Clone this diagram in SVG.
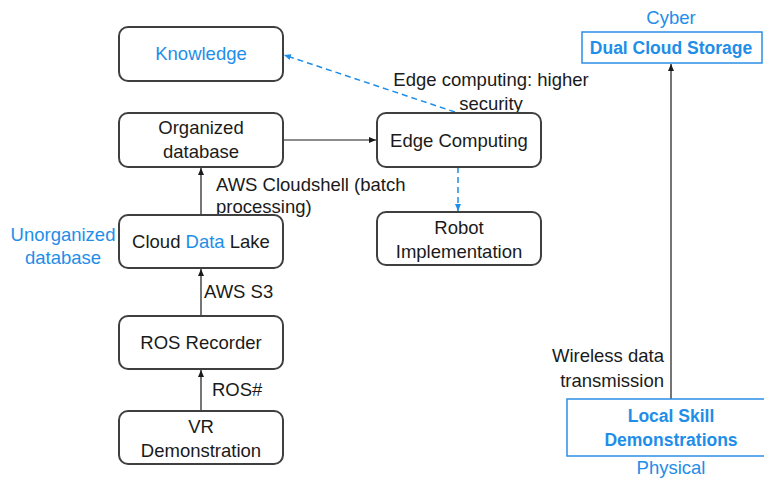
<svg xmlns="http://www.w3.org/2000/svg" width="764" height="481" viewBox="0 0 764 481">
<defs>
<style>
.box{fill:#fff;stroke:#3f3f3f;stroke-width:2}
.bbox{fill:#fff;stroke:#2a8fe6;stroke-width:1.5}
text{font-family:"Liberation Sans",Arial,sans-serif;font-size:18.5px;fill:#1a1a1a}
.c{text-anchor:middle}
.blue{fill:#1e8ee8}
.b{font-weight:bold;font-size:17.5px}
.ln{stroke:#1a1a1a;stroke-width:1.2;fill:none}
.dl{stroke:#1e8ee8;stroke-width:1.5;fill:none;stroke-dasharray:6,4}
</style>
<marker id="ak" markerWidth="8" markerHeight="8" refX="7" refY="4" orient="auto" markerUnits="userSpaceOnUse"><path d="M0,1 L7,4 L0,7 z" fill="#1a1a1a"/></marker>
<marker id="ab" markerWidth="8" markerHeight="8" refX="7" refY="4" orient="auto" markerUnits="userSpaceOnUse"><path d="M0,1 L7,4 L0,7 z" fill="#1e8ee8"/></marker>
</defs>
<g id="connectors">
<line class="ln" x1="201" y1="411" x2="201" y2="370" marker-end="url(#ak)"/>
<line class="ln" x1="201" y1="316" x2="201" y2="269" marker-end="url(#ak)"/>
<line class="ln" x1="201" y1="215" x2="201" y2="168" marker-end="url(#ak)"/>
<line class="ln" x1="283" y1="140" x2="376" y2="140" marker-end="url(#ak)"/>
<line class="ln" x1="671" y1="399" x2="671" y2="64" marker-end="url(#ak)"/>
<line class="dl" x1="458" y1="167" x2="458" y2="211" marker-end="url(#ab)"/>
<line class="dl" x1="455" y1="112" x2="284" y2="55" marker-end="url(#ab)"/>
<text x="212" y="396">ROS#</text>
<text x="204" y="298">AWS S3</text>
<text x="216" y="191">AWS Cloudshell (batch</text>
<text x="216" y="213">processing)</text>
<text class="c" x="491" y="86">Edge computing: higher</text>
<text class="c" x="491" y="110">security</text>
<text x="664" y="362" text-anchor="end">Wireless data</text>
<text x="664" y="387" text-anchor="end">transmission</text>
</g>
<g id="knowledge"><rect class="box" x="119" y="27" width="164" height="54" rx="9"/><text class="c blue" x="201" y="60">Knowledge</text></g>
<g id="organized"><rect class="box" x="119" y="113" width="164" height="54" rx="9"/><text class="c" x="201" y="134">Organized</text><text class="c" x="201" y="158">database</text></g>
<g id="datalake"><rect class="box" x="119" y="215" width="164" height="53" rx="9"/><text class="c" x="201" y="248">Cloud <tspan class="blue">Data</tspan> Lake</text></g>
<g id="unorganized-label"><text class="c blue" x="63" y="241">Unorganized</text><text class="c blue" x="63" y="264">database</text></g>
<g id="rosrecorder"><rect class="box" x="119" y="316" width="164" height="53" rx="9"/><text class="c" x="201" y="349">ROS Recorder</text></g>
<g id="vr"><rect class="box" x="119" y="411" width="164" height="53" rx="9"/><text class="c" x="201" y="433">VR</text><text class="c" x="201" y="457">Demonstration</text></g>
<g id="edge"><rect class="box" x="377" y="113" width="164" height="54" rx="9"/><text class="c" x="459" y="147">Edge Computing</text></g>
<g id="robot"><rect class="box" x="377" y="212" width="164" height="53" rx="9"/><text class="c" x="459" y="234">Robot</text><text class="c" x="459" y="258">Implementation</text></g>
<g id="dualcloud"><text class="c blue" x="671" y="24">Cyber</text><rect class="bbox" x="582" y="32" width="180" height="31"/><text class="c blue b" x="671" y="54">Dual Cloud Storage</text></g>
<g id="localskill"><rect class="bbox" x="567" y="399" width="200" height="57"/><text class="c blue b" x="671" y="422">Local Skill</text><text class="c blue b" x="671" y="446">Demonstrations</text><text class="c blue" x="671" y="474">Physical</text></g>
</svg>
